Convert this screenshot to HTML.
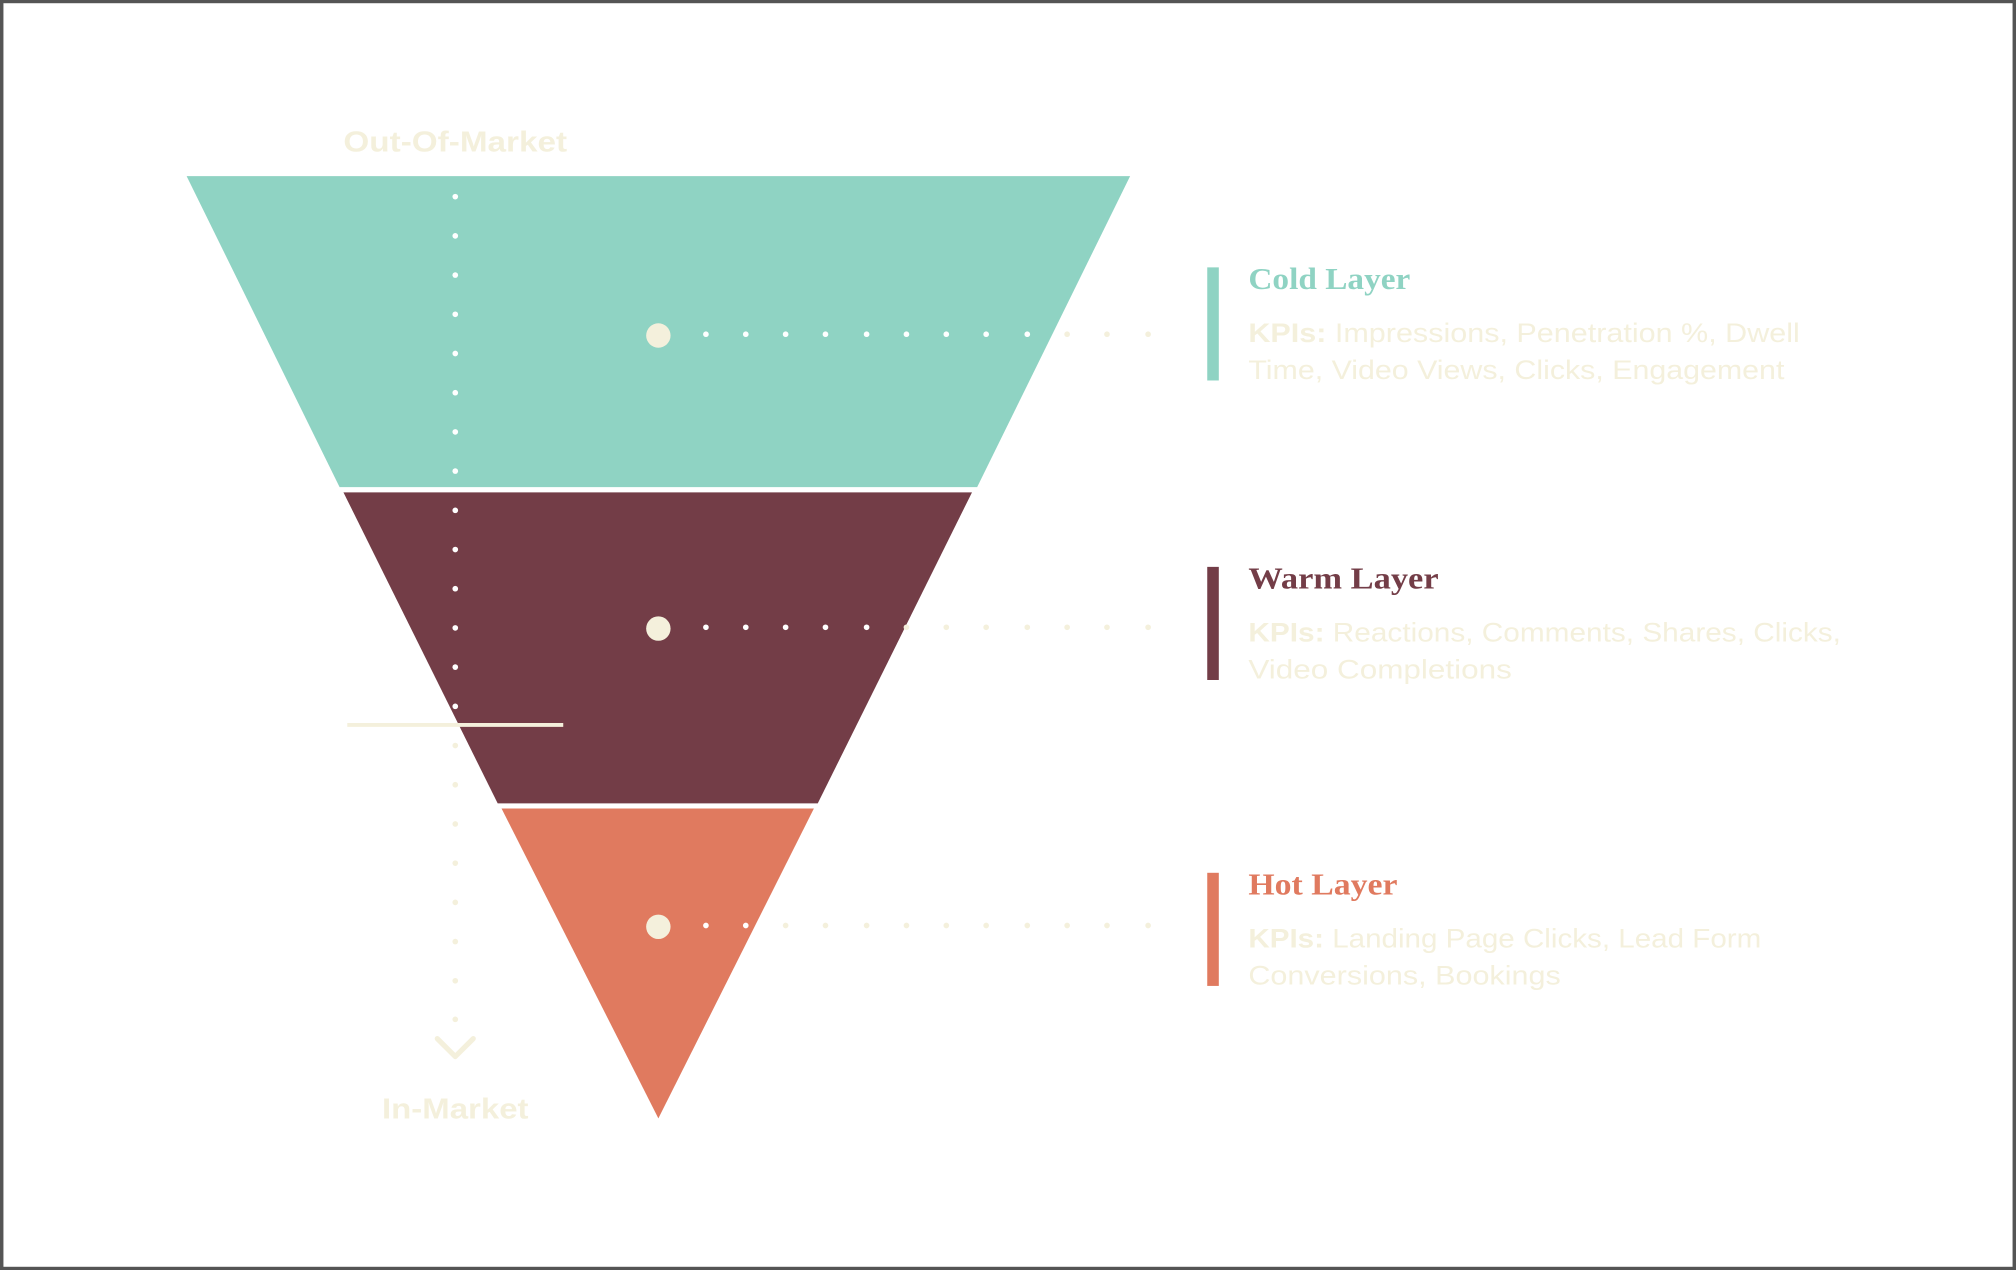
<!DOCTYPE html>
<html><head><meta charset="utf-8"><style>
html,body{margin:0;padding:0;background:#fff;}
svg{display:block;}
.t{font-family:"Liberation Serif",serif;font-weight:bold;font-size:24px;}
.k{font-family:"Liberation Sans",sans-serif;font-size:21px;fill:#f4f0dc;}
.kb{font-weight:bold;}
</style></head><body>
<svg width="2016" height="1270" viewBox="0 0 1568 988" xmlns="http://www.w3.org/2000/svg">
<rect x="1" y="1" width="1566" height="986" fill="#fff" stroke="#555" stroke-width="3"/>
<polygon points="145,137 879,137 760,379 264,379" fill="#8fd3c3"/>
<polygon points="267,383 756,383 636,625 387,625" fill="#733d47"/>
<polygon points="390,629 633,629 512,870" fill="#e07a5f"/>
<g fill="#fff">
<circle cx="354" cy="153" r="2.2"/><circle cx="354" cy="183.5" r="2.2"/><circle cx="354" cy="214" r="2.2"/><circle cx="354" cy="244.5" r="2.2"/><circle cx="354" cy="275" r="2.2"/><circle cx="354" cy="305.5" r="2.2"/><circle cx="354" cy="336" r="2.2"/><circle cx="354" cy="366.5" r="2.2"/><circle cx="354" cy="397" r="2.2"/><circle cx="354" cy="427.5" r="2.2"/><circle cx="354" cy="458" r="2.2"/><circle cx="354" cy="488.5" r="2.2"/><circle cx="354" cy="519" r="2.2"/><circle cx="354" cy="549.5" r="2.2"/>
<circle cx="549" cy="260" r="2.2"/><circle cx="580" cy="260" r="2.2"/><circle cx="611" cy="260" r="2.2"/><circle cx="642" cy="260" r="2.2"/><circle cx="674" cy="260" r="2.2"/><circle cx="705" cy="260" r="2.2"/><circle cx="736" cy="260" r="2.2"/><circle cx="767" cy="260" r="2.2"/><circle cx="799" cy="260" r="2.2"/>
<circle cx="549" cy="488" r="2.2"/><circle cx="580" cy="488" r="2.2"/><circle cx="611" cy="488" r="2.2"/><circle cx="642" cy="488" r="2.2"/><circle cx="674" cy="488" r="2.2"/>
<circle cx="549" cy="720" r="2.2"/><circle cx="580" cy="720" r="2.2"/>
</g>
<g fill="#f4f0dc">
<circle cx="354" cy="580" r="2.2"/><circle cx="354" cy="610.5" r="2.2"/><circle cx="354" cy="641" r="2.2"/><circle cx="354" cy="671.5" r="2.2"/><circle cx="354" cy="702" r="2.2"/><circle cx="354" cy="732.5" r="2.2"/><circle cx="354" cy="763" r="2.2"/><circle cx="354" cy="793" r="2.2"/>
<circle cx="830" cy="260" r="2.2"/><circle cx="861" cy="260" r="2.2"/><circle cx="893" cy="260" r="2.2"/>
<circle cx="705" cy="488" r="2.2"/><circle cx="736" cy="488" r="2.2"/><circle cx="767" cy="488" r="2.2"/><circle cx="799" cy="488" r="2.2"/><circle cx="830" cy="488" r="2.2"/><circle cx="861" cy="488" r="2.2"/><circle cx="893" cy="488" r="2.2"/>
<circle cx="611" cy="720" r="2.2"/><circle cx="642" cy="720" r="2.2"/><circle cx="674" cy="720" r="2.2"/><circle cx="705" cy="720" r="2.2"/><circle cx="736" cy="720" r="2.2"/><circle cx="767" cy="720" r="2.2"/><circle cx="799" cy="720" r="2.2"/><circle cx="830" cy="720" r="2.2"/><circle cx="861" cy="720" r="2.2"/><circle cx="893" cy="720" r="2.2"/>
<circle cx="512" cy="261" r="9.5"/><circle cx="512" cy="489" r="9.5"/><circle cx="512" cy="721" r="9.5"/>
</g>
<line x1="270" y1="564" x2="438" y2="564" stroke="#f4f0dc" stroke-width="3"/>
<polyline points="340,808 354,822 368,808" fill="none" stroke="#f4f0dc" stroke-width="4" stroke-linecap="round" stroke-linejoin="round"/>
<text x="267" y="118" font-family="Liberation Sans,sans-serif" font-weight="bold" font-size="22" fill="#f4f0dc" textLength="174" lengthAdjust="spacingAndGlyphs">Out-Of-Market</text>
<text x="297" y="870" font-family="Liberation Sans,sans-serif" font-weight="bold" font-size="22" fill="#f4f0dc" textLength="114" lengthAdjust="spacingAndGlyphs">In-Market</text>
<rect x="939" y="208" width="9" height="88" fill="#8fd3c3"/>
<rect x="939" y="441" width="9" height="88" fill="#733d47"/>
<rect x="939" y="679" width="9" height="88" fill="#e07a5f"/>
<text class="t" x="971" y="225" fill="#8fd3c3" textLength="126" lengthAdjust="spacingAndGlyphs">Cold Layer</text>
<text class="k" x="971" y="266" textLength="429" lengthAdjust="spacingAndGlyphs"><tspan class="kb">KPIs:</tspan> Impressions, Penetration %, Dwell</text>
<text class="k" x="971" y="295" textLength="417" lengthAdjust="spacingAndGlyphs">Time, Video Views, Clicks, Engagement</text>
<text class="t" x="971" y="458" fill="#733d47" textLength="148" lengthAdjust="spacingAndGlyphs">Warm Layer</text>
<text class="k" x="971" y="499" textLength="461" lengthAdjust="spacingAndGlyphs"><tspan class="kb">KPIs:</tspan> Reactions, Comments, Shares, Clicks,</text>
<text class="k" x="971" y="528" textLength="205" lengthAdjust="spacingAndGlyphs">Video Completions</text>
<text class="t" x="971" y="696" fill="#e07a5f" textLength="116" lengthAdjust="spacingAndGlyphs">Hot Layer</text>
<text class="k" x="971" y="737" textLength="399" lengthAdjust="spacingAndGlyphs"><tspan class="kb">KPIs:</tspan> Landing Page Clicks, Lead Form</text>
<text class="k" x="971" y="766" textLength="243" lengthAdjust="spacingAndGlyphs">Conversions, Bookings</text>
</svg>
</body></html>
